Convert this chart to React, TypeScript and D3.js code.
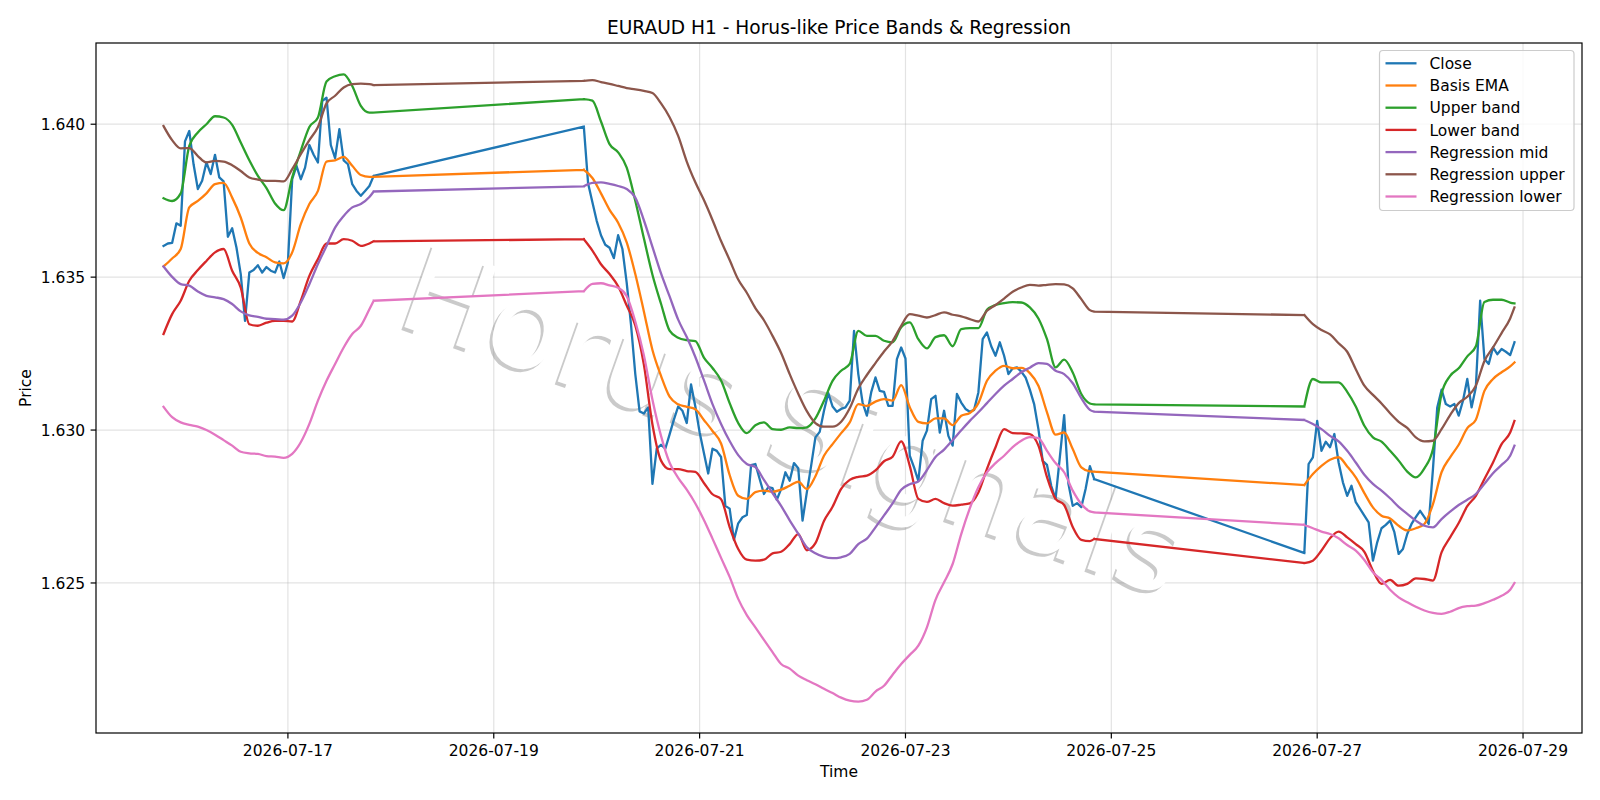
import React from 'react';
import * as d3 from 'd3';

// Hourly EURAUD bars, three trading sessions (UTC) with weekend gaps between them
const sessionOpen = ['2026-07-15T19:00:00Z', '2026-07-19T21:00:00Z', '2026-07-26T21:00:00Z'];
const sessionBars = [50, 120, 50];

// Close, one value per bar
const close = [
  1.63602, 1.63610, 1.63612, 1.63676, 1.63668, 1.63944, 1.63978, 1.63869, 1.63788, 1.63815,
  1.63875, 1.63837, 1.63900, 1.63826, 1.63813, 1.63632, 1.63660, 1.63597, 1.63510, 1.63357,
  1.63515, 1.63523, 1.63539, 1.63515, 1.63533, 1.63521, 1.63515, 1.63551, 1.63497, 1.63548,
  1.63820, 1.63864, 1.63820, 1.63858, 1.63932, 1.63900, 1.63875, 1.64076, 1.64087, 1.63932,
  1.63889, 1.63984, 1.63882, 1.63869, 1.63804, 1.63782, 1.63766, 1.63782, 1.63798, 1.63831,

  1.63992, 1.63806, 1.63745, 1.63684, 1.63637, 1.63606, 1.63596, 1.63562, 1.63637, 1.63592,
  1.63481, 1.63345, 1.63183, 1.63061, 1.63054, 1.63074, 1.62824, 1.62939, 1.62952, 1.62939,
  1.62986, 1.63034, 1.63077, 1.63063, 1.63023, 1.63149, 1.63077, 1.62993, 1.62925, 1.62858,
  1.62939, 1.62932, 1.62912, 1.62752, 1.62743, 1.62641, 1.62695, 1.62715, 1.62722, 1.62885,
  1.62889, 1.62840, 1.62791, 1.62813, 1.62810, 1.62772, 1.62807, 1.62862, 1.62834, 1.62892,
  1.62875, 1.62704, 1.62796, 1.62883, 1.62976, 1.62994, 1.63063, 1.63121, 1.63077, 1.63060,
  1.63069, 1.63074, 1.63096, 1.63324, 1.63183, 1.63090, 1.63047, 1.63123, 1.63172, 1.63128,
  1.63125, 1.63079, 1.63079, 1.63232, 1.63270, 1.63234, 1.62916, 1.62878, 1.62834, 1.62965,
  1.62998, 1.63101, 1.63112, 1.62992, 1.63063, 1.62981, 1.62949, 1.63118, 1.63090, 1.63069,
  1.63060, 1.63066, 1.63123, 1.63297, 1.63319, 1.63274, 1.63243, 1.63287, 1.63243, 1.63183,
  1.63202, 1.63205, 1.63191, 1.63172, 1.63132, 1.63085, 1.63003, 1.62899, 1.62886, 1.62817,
  1.62775, 1.62912, 1.63049, 1.62824, 1.62752, 1.62761, 1.62748, 1.62807, 1.62882, 1.62840,

  1.62598, 1.62889, 1.62911, 1.63030, 1.62932, 1.62962, 1.62944, 1.62987, 1.62894, 1.62829,
  1.62785, 1.62818, 1.62764, 1.62742, 1.62720, 1.62698, 1.62573, 1.62633, 1.62679, 1.62690,
  1.62704, 1.62666, 1.62595, 1.62611, 1.62660, 1.62693, 1.62715, 1.62736, 1.62715, 1.62693,
  1.62873, 1.63074, 1.63132, 1.63085, 1.63077, 1.63085, 1.63047, 1.63096, 1.63167, 1.63074,
  1.63140, 1.63423, 1.63232, 1.63216, 1.63270, 1.63248, 1.63265, 1.63256, 1.63245, 1.63287,
];

// Indicator values every 2nd bar (plus each session's last bar)
const basisEma = [
  1.63535, 1.63561, 1.63592, 1.63728, 1.63749, 1.63774, 1.63804, 1.63808, 1.63760, 1.63695,
  1.63610, 1.63579, 1.63565, 1.63548, 1.63545, 1.63581, 1.63673, 1.63739, 1.63782, 1.63878,
  1.63882, 1.63893, 1.63864, 1.63834, 1.63828, 1.63828,

  1.63851, 1.63824, 1.63774, 1.63720, 1.63678, 1.63614, 1.63510, 1.63388, 1.63262, 1.63177,
  1.63109, 1.63084, 1.63076, 1.63068, 1.63033, 1.62997, 1.62956, 1.62853, 1.62785, 1.62775,
  1.62797, 1.62802, 1.62798, 1.62805, 1.62818, 1.62831, 1.62807, 1.62849, 1.62916, 1.62954,
  1.62990, 1.63025, 1.63085, 1.63079, 1.63093, 1.63101, 1.63096, 1.63147, 1.63075, 1.63027,
  1.63022, 1.63038, 1.63038, 1.63016, 1.63047, 1.63056, 1.63088, 1.63161, 1.63194, 1.63210,
  1.63202, 1.63203, 1.63186, 1.63145, 1.63058, 1.62985, 1.62992, 1.62938, 1.62878, 1.62865,
  1.62864,

  1.62820, 1.62856, 1.62883, 1.62903, 1.62911, 1.62881, 1.62845, 1.62794, 1.62747, 1.62720,
  1.62711, 1.62687, 1.62672, 1.62679, 1.62693, 1.62758, 1.62862, 1.62911, 1.62952, 1.63006,
  1.63034, 1.63128, 1.63167, 1.63189, 1.63208, 1.63221,
];

const upperBand = [
  1.63758, 1.63749, 1.63774, 1.63929, 1.63973, 1.64000, 1.64026, 1.64022, 1.63998, 1.63940,
  1.63882, 1.63831, 1.63791, 1.63741, 1.63719, 1.63826, 1.63913, 1.63991, 1.64022, 1.64140,
  1.64157, 1.64163, 1.64125, 1.64060, 1.64038, 1.64038,

  1.64082, 1.64077, 1.64009, 1.63935, 1.63908, 1.63858, 1.63750, 1.63627, 1.63508, 1.63413,
  1.63325, 1.63302, 1.63294, 1.63291, 1.63237, 1.63203, 1.63162, 1.63088, 1.63023, 1.62990,
  1.63016, 1.63025, 1.63003, 1.63001, 1.63009, 1.63006, 1.63009, 1.63038, 1.63096, 1.63161,
  1.63194, 1.63216, 1.63324, 1.63308, 1.63308, 1.63292, 1.63287, 1.63336, 1.63352, 1.63297,
  1.63267, 1.63304, 1.63310, 1.63274, 1.63330, 1.63333, 1.63333, 1.63393, 1.63409, 1.63415,
  1.63418, 1.63417, 1.63401, 1.63365, 1.63297, 1.63205, 1.63230, 1.63188, 1.63118, 1.63087,
  1.63084,

  1.63077, 1.63167, 1.63156, 1.63156, 1.63156, 1.63125, 1.63077, 1.63014, 1.62976, 1.62962,
  1.62932, 1.62900, 1.62864, 1.62845, 1.62875, 1.62938, 1.63118, 1.63177, 1.63202, 1.63241,
  1.63274, 1.63419, 1.63426, 1.63426, 1.63417, 1.63414,
];

const lowerBand = [
  1.63314, 1.63379, 1.63423, 1.63488, 1.63523, 1.63553, 1.63581, 1.63592, 1.63521, 1.63466,
  1.63346, 1.63341, 1.63351, 1.63357, 1.63357, 1.63355, 1.63423, 1.63504, 1.63559, 1.63610,
  1.63610, 1.63624, 1.63619, 1.63602, 1.63610, 1.63617,

  1.63624, 1.63587, 1.63542, 1.63510, 1.63470, 1.63407, 1.63342, 1.63214, 1.63018, 1.62900,
  1.62872, 1.62872, 1.62866, 1.62863, 1.62827, 1.62790, 1.62774, 1.62683, 1.62611, 1.62576,
  1.62573, 1.62576, 1.62597, 1.62602, 1.62627, 1.62660, 1.62607, 1.62630, 1.62703, 1.62749,
  1.62808, 1.62837, 1.62847, 1.62851, 1.62868, 1.62898, 1.62913, 1.62963, 1.62883, 1.62775,
  1.62765, 1.62775, 1.62761, 1.62753, 1.62756, 1.62760, 1.62796, 1.62873, 1.62944, 1.63003,
  1.62990, 1.62989, 1.62987, 1.62949, 1.62846, 1.62775, 1.62755, 1.62683, 1.62641, 1.62637,
  1.62644,

  1.62565, 1.62573, 1.62606, 1.62646, 1.62668, 1.62649, 1.62627, 1.62602, 1.62540, 1.62497,
  1.62510, 1.62491, 1.62497, 1.62515, 1.62513, 1.62508, 1.62600, 1.62649, 1.62696, 1.62751,
  1.62785, 1.62840, 1.62894, 1.62954, 1.62992, 1.63030,
];

const regressionMid = [
  1.63535, 1.63501, 1.63477, 1.63472, 1.63453, 1.63439, 1.63434, 1.63428, 1.63412, 1.63388,
  1.63375, 1.63370, 1.63364, 1.63363, 1.63361, 1.63374, 1.63417, 1.63477, 1.63543, 1.63602,
  1.63662, 1.63700, 1.63728, 1.63739, 1.63762, 1.63780,

  1.63797, 1.63808, 1.63810, 1.63805, 1.63798, 1.63788, 1.63760, 1.63686, 1.63599, 1.63512,
  1.63437, 1.63361, 1.63304, 1.63239, 1.63163, 1.63085, 1.63020, 1.62964, 1.62918, 1.62889,
  1.62879, 1.62837, 1.62794, 1.62752, 1.62705, 1.62661, 1.62617, 1.62597, 1.62585, 1.62581,
  1.62584, 1.62595, 1.62627, 1.62645, 1.62682, 1.62721, 1.62760, 1.62805, 1.62823, 1.62832,
  1.62869, 1.62912, 1.62936, 1.62967, 1.62999, 1.63030, 1.63058, 1.63088, 1.63118, 1.63145,
  1.63167, 1.63189, 1.63204, 1.63219, 1.63216, 1.63194, 1.63183, 1.63153, 1.63104, 1.63066,
  1.63060,

  1.63033, 1.63020, 1.63003, 1.62981, 1.62963, 1.62932, 1.62894, 1.62854, 1.62824, 1.62802,
  1.62777, 1.62749, 1.62726, 1.62704, 1.62687, 1.62682, 1.62709, 1.62733, 1.62755, 1.62772,
  1.62791, 1.62824, 1.62859, 1.62886, 1.62916, 1.62949,
];

const regressionUpper = [
  1.63994, 1.63948, 1.63921, 1.63922, 1.63896, 1.63875, 1.63880, 1.63878, 1.63866, 1.63847,
  1.63826, 1.63819, 1.63815, 1.63815, 1.63813, 1.63853, 1.63902, 1.63948, 1.63991, 1.64068,
  1.64093, 1.64120, 1.64131, 1.64133, 1.64131, 1.64128,

  1.64142, 1.64144, 1.64138, 1.64132, 1.64125, 1.64118, 1.64114, 1.64109, 1.64102, 1.64068,
  1.64023, 1.63962, 1.63878, 1.63810, 1.63752, 1.63687, 1.63618, 1.63556, 1.63492, 1.63449,
  1.63399, 1.63359, 1.63308, 1.63252, 1.63183, 1.63119, 1.63062, 1.63023, 1.63011, 1.63011,
  1.63027, 1.63071, 1.63136, 1.63180, 1.63219, 1.63257, 1.63291, 1.63341, 1.63379, 1.63374,
  1.63368, 1.63376, 1.63385, 1.63377, 1.63372, 1.63363, 1.63355, 1.63390, 1.63409, 1.63430,
  1.63452, 1.63466, 1.63475, 1.63472, 1.63475, 1.63477, 1.63476, 1.63463, 1.63428, 1.63392,
  1.63387,

  1.63376, 1.63346, 1.63327, 1.63313, 1.63284, 1.63256, 1.63199, 1.63145, 1.63115, 1.63087,
  1.63055, 1.63027, 1.63007, 1.62976, 1.62963, 1.62965, 1.63003, 1.63049, 1.63088, 1.63109,
  1.63145, 1.63226, 1.63270, 1.63317, 1.63365, 1.63401,
];

const regressionLower = [
  1.63076, 1.63042, 1.63025, 1.63017, 1.63011, 1.63000, 1.62985, 1.62967, 1.62949, 1.62929,
  1.62924, 1.62922, 1.62915, 1.62913, 1.62909, 1.62922, 1.62960, 1.63020, 1.63096, 1.63161,
  1.63216, 1.63270, 1.63314, 1.63341, 1.63395, 1.63423,

  1.63454, 1.63478, 1.63480, 1.63473, 1.63465, 1.63438, 1.63355, 1.63245, 1.63099, 1.62981,
  1.62893, 1.62844, 1.62805, 1.62760, 1.62706, 1.62645, 1.62582, 1.62520, 1.62448, 1.62395,
  1.62355, 1.62314, 1.62274, 1.62235, 1.62220, 1.62197, 1.62182, 1.62169, 1.62154, 1.62140,
  1.62125, 1.62115, 1.62112, 1.62118, 1.62145, 1.62164, 1.62200, 1.62235, 1.62265, 1.62295,
  1.62355, 1.62445, 1.62502, 1.62562, 1.62660, 1.62744, 1.62813, 1.62862, 1.62892, 1.62916,
  1.62944, 1.62965, 1.62977, 1.62974, 1.62932, 1.62892, 1.62862, 1.62802, 1.62758, 1.62734,
  1.62731,

  1.62690, 1.62679, 1.62668, 1.62660, 1.62646, 1.62624, 1.62606, 1.62575, 1.62535, 1.62510,
  1.62478, 1.62453, 1.62437, 1.62422, 1.62410, 1.62402, 1.62399, 1.62406, 1.62418, 1.62424,
  1.62426, 1.62434, 1.62445, 1.62458, 1.62478, 1.62500,
];

const xTickDates = ['2026-07-17', '2026-07-19', '2026-07-21', '2026-07-23', '2026-07-25', '2026-07-27', '2026-07-29'];
const yTicks = [1.625, 1.630, 1.635, 1.640];

const series = [
  { name: 'Close', values: close, step: 1, color: '#1f77b4' },
  { name: 'Basis EMA', values: basisEma, step: 2, color: '#ff7f0e' },
  { name: 'Upper band', values: upperBand, step: 2, color: '#2ca02c' },
  { name: 'Lower band', values: lowerBand, step: 2, color: '#d62728' },
  { name: 'Regression mid', values: regressionMid, step: 2, color: '#9467bd' },
  { name: 'Regression upper', values: regressionUpper, step: 2, color: '#8c564b' },
  { name: 'Regression lower', values: regressionLower, step: 2, color: '#e377c2' },
];

const HOUR = 3600 * 1000;
const W = 1600;
const H = 800;
const plot = { left: 96, right: 1582, top: 43, bottom: 733 };
const FONT = 'DejaVu Sans, sans-serif';
const LW = 2.3;

type Pt = [Date, number];

// split a series into per-session point lists
function sessionPoints(values: number[], step: number): Pt[][] {
  let offset = 0;
  return sessionOpen.map((open, s) => {
    const t0 = Date.parse(open);
    const n = sessionBars[s];
    const idx = d3.range(0, n, step);
    if (idx[idx.length - 1] !== n - 1) idx.push(n - 1);
    const pts = idx.map((i, k) => [new Date(t0 + i * HOUR), values[offset + k]] as Pt);
    offset += idx.length;
    return pts;
  });
}

export default function App() {
  const allPts = series.map(s => sessionPoints(s.values, s.step));
  const flat = allPts.flat(2);

  const [t0, t1] = d3.extent(flat, d => +d[0]) as [number, number];
  const tPad = (t1 - t0) * 0.05;
  const x = d3.scaleUtc().domain([new Date(t0 - tPad), new Date(t1 + tPad)]).range([plot.left, plot.right]);

  const [v0, v1] = d3.extent(flat, d => d[1]) as [number, number];
  const vPad = (v1 - v0) * 0.05;
  const y = d3.scaleLinear().domain([v0 - vPad, v1 + vPad]).range([plot.bottom, plot.top]);

  const smooth = d3.line<Pt>().x(d => x(d[0])).y(d => y(d[1])).curve(d3.curveMonotoneX);
  const straight = d3.line<Pt>().x(d => x(d[0])).y(d => y(d[1]));

  const paths = series.map((s, i) => {
    const chunks = allPts[i];
    const gen = s.step === 1 ? straight : smooth;
    let d = chunks.map(c => gen(c)).join('');
    for (let k = 0; k < chunks.length - 1; k++) {
      d += straight([chunks[k][chunks[k].length - 1], chunks[k + 1][0]]);
    }
    return d;
  });

  const xTicks = xTickDates.map(s => new Date(s + 'T00:00:00Z'));
  const fmtDate = d3.utcFormat('%Y-%m-%d');
  const fmtPrice = d3.format('.3f');

  const legendX = 1379.5;
  const legendY = 50.5;
  const rowH = 22.2;

  const wmX = 794;
  const wmY = 421;
  const wmRot = 19.5;

  return (
    <div style={{ position: 'fixed', left: 0, top: 0 }}>
      <svg width={W} height={H} style={{ display: 'block', background: '#fff' }} fontFamily={FONT}>
        <rect x={0} y={0} width={W} height={H} fill="#fff" />

        {/* grid */}
        <g stroke="#b0b0b0" strokeOpacity={0.35} strokeWidth={1.2}>
          {xTicks.map((t, i) => (
            <line key={'gx' + i} x1={x(t)} x2={x(t)} y1={plot.top} y2={plot.bottom} />
          ))}
          {yTicks.map((v, i) => (
            <line key={'gy' + i} x1={plot.left} x2={plot.right} y1={y(v)} y2={y(v)} />
          ))}
        </g>

        {/* watermark */}
        <g transform="translate(-3,3)">
          <text
            x={wmX} y={wmY} fontSize={120} textAnchor="middle" dominantBaseline="central"
            fill="#808080" fillOpacity={0.42}
            transform={`rotate(${wmRot}, ${wmX}, ${wmY})`}
          >
            Horus Signals
          </text>
        </g>
        <text
          x={wmX} y={wmY} fontSize={120} textAnchor="middle" dominantBaseline="central"
          fill="#ffffff"
          transform={`rotate(${wmRot}, ${wmX}, ${wmY})`}
        >
          Horus Signals
        </text>

        {/* series */}
        {series.map((s, i) => (
          <path key={s.name} d={paths[i]} fill="none" stroke={s.color} strokeWidth={LW}
            strokeLinejoin="round" strokeLinecap="square" />
        ))}

        {/* axes frame */}
        <rect x={plot.left} y={plot.top} width={plot.right - plot.left} height={plot.bottom - plot.top}
          fill="none" stroke="#000" strokeWidth={1.2} />

        {/* x ticks */}
        {xTicks.map((t, i) => (
          <g key={'xt' + i}>
            <line x1={x(t)} x2={x(t)} y1={plot.bottom} y2={plot.bottom + 5.4} stroke="#000" strokeWidth={1.2} />
            <text x={x(t)} y={755.5} fontSize={15.5} textAnchor="middle" fill="#000">{fmtDate(t)}</text>
          </g>
        ))}

        {/* y ticks */}
        {yTicks.map((v, i) => (
          <g key={'yt' + i}>
            <line x1={plot.left - 5.4} x2={plot.left} y1={y(v)} y2={y(v)} stroke="#000" strokeWidth={1.2} />
            <text x={85.2} y={y(v) + 5.6} fontSize={15.5} textAnchor="end" fill="#000">{fmtPrice(v)}</text>
          </g>
        ))}

        {/* labels */}
        <text x={(plot.left + plot.right) / 2} y={33.7} fontSize={18.6} textAnchor="middle" fill="#000">
          EURAUD H1 - Horus-like Price Bands &amp; Regression
        </text>
        <text x={(plot.left + plot.right) / 2} y={776.5} fontSize={15.5} textAnchor="middle" fill="#000">Time</text>
        <text x={31} y={(plot.top + plot.bottom) / 2} fontSize={15.5} textAnchor="middle" fill="#000"
          transform={`rotate(-90, 31, ${(plot.top + plot.bottom) / 2})`}>Price</text>

        {/* legend */}
        <rect x={legendX} y={legendY} width={194.5} height={160} rx={3.5} ry={3.5}
          fill="#fff" fillOpacity={0.8} stroke="#cccccc" strokeWidth={1.2} />
        {series.map((s, i) => {
          const cy = 63.3 + i * rowH;
          return (
            <g key={'lg' + i}>
              <line x1={1385.5} x2={1416.5} y1={cy} y2={cy} stroke={s.color} strokeWidth={LW} />
              <text x={1429.5} y={cy + 5.6} fontSize={15.5} fill="#000">{s.name}</text>
            </g>
          );
        })}
      </svg>
    </div>
  );
}
